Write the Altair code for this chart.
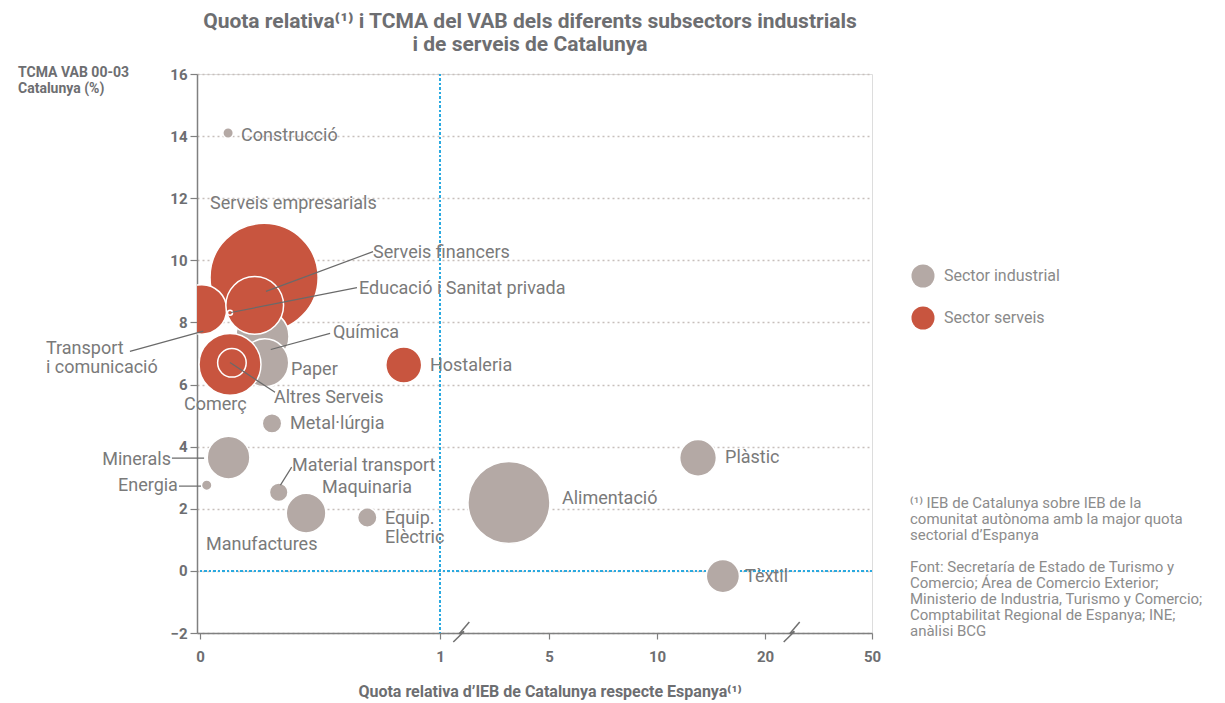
import altair as alt
import pandas as pd

# ---------------- data ----------------
names = ["Serveis empresarials", "Química", "Paper", "Comerç", "Transport i comunicació",
         "Serveis financers", "Altres Serveis", "Educació i Sanitat privada", "Hostaleria",
         "Construcció", "Metal·lúrgia", "Minerals", "Energia", "Material transport",
         "Manufactures", "Maquinaria", "Equip. Elèctric", "Alimentació", "Plàstic", "Tèxtil"]
sectors = ["Sector serveis", "Sector industrial", "Sector industrial", "Sector serveis", "Sector serveis",
           "Sector serveis", "Sector serveis", "Sector serveis", "Sector serveis",
           "Sector industrial", "Sector industrial", "Sector industrial", "Sector industrial", "Sector industrial",
           "Sector industrial", "Sector industrial", "Sector industrial", "Sector industrial", "Sector industrial",
           "Sector industrial"]
quota = [0.267, 0.26, 0.27, 0.125, 0.008, 0.228, 0.133, 0.125, 0.849,
         0.117, 0.30, 0.119, 0.028, 0.328, 0.442, 0.442, 0.697, 3.53, 13.8, 16.1]
tcma = [9.45, 7.55, 6.70, 6.65, 8.42, 8.55, 6.70, 8.31, 6.63,
        14.1, 4.75, 3.65, 2.76, 2.53, 1.86, 1.86, 1.72, 2.20, 3.64, -0.17]
pes = [372, 90, 73, 122, 78, 106, 26, 0.8, 41,
       3.5, 12, 58, 3.5, 11, 50, 50, 12, 214, 43, 35]

# labels (anchor in data units)
label_text = ["Construcció", "Serveis empresarials", "Serveis financers", "Educació i Sanitat privada",
              "Química", "Paper", "Transport\ni comunicació", "Hostaleria", "Comerç", "Altres Serveis",
              "Metal·lúrgia", "Minerals", "Energia", "Material transport", "Maquinaria",
              "Equip.\nElèctric", "Manufactures", "Alimentació", "Plàstic", "Tèxtil"]
label_x = [0.171, 0.042, 0.721, 0.6625, 0.554, 0.379, -0.642, 0.958, -0.067, 0.308,
           0.375, -0.121, -0.092, 0.383, 0.508, 0.771, 0.025, 5.6, 16.3, 18.15]
label_y = [14.01, 11.82, 10.25, 9.09, 7.65, 6.46, 7.13, 6.59, 5.33, 5.56,
           4.72, 3.57, 2.73, 3.37, 2.67, 1.67, 0.835, 2.31, 3.63, -0.19]
label_align = ["left", "left", "left", "left", "left", "left", "left", "left", "left", "left",
               "left", "right", "right", "left", "left", "left", "left", "left", "left", "left"]

# leader lines (data units)
lead_x = [0.721, 0.654, 0.542, -0.292, 0.3125, -0.117, -0.0875, 0.382]
lead_y = [10.28, 9.12, 7.65, 7.07, 5.75, 3.63, 2.73, 3.34]
lead_x2 = [0.275, 0.129, 0.295, 0.014, 0.125, 0.017, 0.004, 0.335]
lead_y2 = [9.00, 8.32, 7.13, 7.72, 6.71, 3.63, 2.73, 2.76]

# axis break markers (zigzag segments, data units)
brk_x = [2.075, 1.708, 1.881, 29.73, 26.93, 28.24]
brk_x2 = [1.708, 1.881, 1.488, 26.93, 28.24, 25.24]
brk_y = [-1.648, -2.024, -1.950, -1.648, -2.024, -1.950]
brk_y2 = [-2.024, -1.950, -2.291, -2.024, -1.950, -2.291]

x_ticks = [0, 1, 5, 10, 20, 50]
y_ticks = [-2, 0, 2, 4, 6, 8, 10, 12, 14, 16]
ref_x = 1
ref_y = 0

title_lines = ["Quota relativa⁽¹⁾ i TCMA del VAB dels diferents subsectors industrials",
               "i de serveis de Catalunya"]
y_title = "TCMA VAB 00-03\nCatalunya (%)"
x_title = "Quota relativa d’IEB de Catalunya respecte Espanya⁽¹⁾"
note1 = "⁽¹⁾ IEB de Catalunya sobre IEB de la\ncomunitat autònoma amb la major quota\nsectorial d’Espanya"
note2 = ("Font: Secretaría de Estado de Turismo y\nComercio; Área de Comercio Exterior;\n"
         "Ministerio de Industria, Turismo y Comercio;\nComptabilitat Regional de Espanya; INE;\nanàlisi BCG")

# ---------------- style ----------------
FONT = "Roboto"
GREY = "#b4a9a5"
RED = "#c8553f"
BLUE = "#2aa9e0"
TXT = "#7a7a7a"
DARK = "#6d6e71"
AX = "#808080"

df = pd.DataFrame({"nom": names, "sector": sectors, "quota": quota, "tcma": tcma,
                   "pes": pes, "ord": list(range(len(names)))})
lab = pd.DataFrame({"t": label_text, "x": label_x, "y": label_y, "a": label_align})
lead = pd.DataFrame({"x": lead_x, "y": lead_y, "x2": lead_x2, "y2": lead_y2})
brk = pd.DataFrame({"x": brk_x, "y": brk_y, "x2": brk_x2, "y2": brk_y2})

xs = alt.Scale(domain=[-0.0125, 1, 5, 10, 20, 50], range=[0, 243, 352, 460, 568, 675],
               nice=False, zero=False)
ys = alt.Scale(domain=[-2, 16], nice=False, zero=False)

W, H = 675, 559

base_axes = alt.Chart(df).mark_point(opacity=0).encode(
    x=alt.X("quota:Q", scale=xs,
            axis=alt.Axis(values=x_ticks, grid=False, title=None, format="d", labelFontSize=15,
                          labelFontWeight="bold", labelColor=DARK, labelPadding=10, tickSize=6,
                          tickColor=AX, domainColor=AX, domainWidth=1.5, tickWidth=1.2,
                          labelFont=FONT, labelFlush=False, labelOverlap=False)),
    y=alt.Y("tcma:Q", scale=ys,
            axis=alt.Axis(values=y_ticks, grid=True, gridDash=[2, 3], gridColor="#c7bfbb",
                          gridWidth=1.6, title=None, labelFontSize=15, labelFontWeight="bold",
                          labelColor=DARK, labelPadding=3, tickSize=7, tickColor=AX,
                          domainColor=AX, domainWidth=1.5, tickWidth=1.2, labelFont=FONT,
                          labelFlush=False, labelOverlap=False)),
)

vline = alt.Chart(df).mark_rule(color=BLUE, strokeDash=[2, 2.5], strokeWidth=2).encode(
    x=alt.datum(ref_x, scale=xs))
hline = alt.Chart(df).mark_rule(color=BLUE, strokeDash=[2, 2.5], strokeWidth=2).encode(
    y=alt.datum(ref_y, scale=ys), x=alt.datum(0), x2=alt.datum(50))

bubbles = alt.Chart(df).mark_circle(opacity=1, stroke="white", strokeWidth=1.5, clip=True).encode(
    x=alt.X("quota:Q", scale=xs),
    y=alt.Y("tcma:Q", scale=ys),
    size=alt.Size("pes:Q", scale=alt.Scale(type="linear", domain=[0, 400], range=[0, 400 * 10 * 3.14159]),
                  legend=None),
    color=alt.Color("sector:N",
                    scale=alt.Scale(domain=["Sector industrial", "Sector serveis"], range=[GREY, RED]),
                    legend=alt.Legend(orient="none", legendX=714, legendY=190, title=None,
                                      symbolSize=531, symbolType="circle", symbolStrokeWidth=0,
                                      labelFontSize=16, labelColor="#8a8a8a", labelFont=FONT,
                                      rowPadding=18, labelOffset=9, symbolOpacity=1)),
    order=alt.Order("ord:Q"),
)

leaders = alt.Chart(lead).mark_rule(color="#6a6a6a", strokeWidth=1.2).encode(
    x=alt.X("x:Q", scale=xs), y=alt.Y("y:Q", scale=ys), x2="x2:Q", y2="y2:Q")

breaks = alt.Chart(brk).mark_rule(color="#707070", strokeWidth=1.5).encode(
    x=alt.X("x:Q", scale=xs), y=alt.Y("y:Q", scale=ys), x2="x2:Q", y2="y2:Q")

lab_left = alt.Chart(lab).transform_filter("datum.a == 'left'").mark_text(
    align="left", baseline="middle", font=FONT, fontSize=18, color=TXT, lineBreak="\n", lineHeight=19
).encode(x=alt.X("x:Q", scale=xs), y=alt.Y("y:Q", scale=ys), text="t:N")
lab_right = alt.Chart(lab).transform_filter("datum.a == 'right'").mark_text(
    align="right", baseline="middle", font=FONT, fontSize=18, color=TXT, lineBreak="\n", lineHeight=19
).encode(x=alt.X("x:Q", scale=xs), y=alt.Y("y:Q", scale=ys), text="t:N")


def txt(s, x, y, **kw):
    return alt.Chart(pd.DataFrame({"t": [s]})).mark_text(font=FONT, lineBreak="\n", **kw).encode(
        x=alt.value(x), y=alt.value(y), text="t:N")


title1 = txt(title_lines[0], 333, -52, fontSize=21, fontWeight="bold", color=DARK, align="center",
             baseline="middle")
title2 = txt(title_lines[1], 333, -29, fontSize=21, fontWeight="bold", color=DARK, align="center",
             baseline="middle")
ytitle = txt(y_title, -179, -1, fontSize=14, fontWeight="bold", color=DARK, align="left",
             baseline="middle", lineHeight=16)
xtitle = txt(x_title, 353, 618, fontSize=16, fontWeight="bold", color=DARK, align="center",
             baseline="middle")
n1 = txt(note1, 713, 429, fontSize=15, color="#8c8c8c", align="left", baseline="middle", lineHeight=16)
n2 = txt(note2, 713, 493, fontSize=15, color="#8c8c8c", align="left", baseline="middle", lineHeight=16)

chart = alt.layer(base_axes, vline, hline, bubbles, leaders, breaks, lab_left, lab_right,
                  title1, title2, ytitle, xtitle, n1, n2).properties(
    width=W, height=H,
    autosize=alt.AutoSizeParams(type="none"),
    padding={"left": 189, "top": 66, "right": 345, "bottom": 70},
).configure_view(stroke=None).configure(background="white")

chart.save("out.html", embed_options={"renderer": "svg", "actions": False})
